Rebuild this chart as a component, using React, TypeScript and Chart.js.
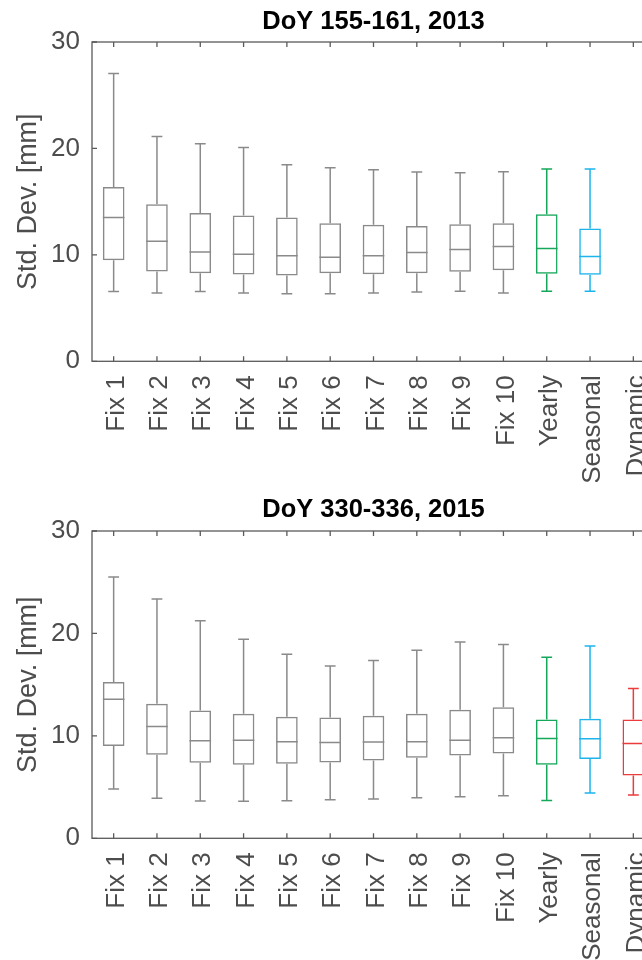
import React, { useEffect, useRef } from 'react';
import { Chart, registerables } from 'chart.js';

Chart.register(...registerables);

// ---------- data ----------
const categories = ['Fix 1', 'Fix 2', 'Fix 3', 'Fix 4', 'Fix 5', 'Fix 6', 'Fix 7', 'Fix 8', 'Fix 9', 'Fix 10', 'Yearly', 'Seasonal', 'Dynamic'];
const yTicks = [0, 10, 20, 30];
const yAxisLabel = 'Std. Dev. [mm]';

const title2013 = 'DoY 155-161, 2013';
const low2013 = [6.56, 6.41, 6.56, 6.41, 6.34, 6.34, 6.41, 6.5, 6.59, 6.41, 6.59, 6.59, null];
const q1_2013 = [9.5, 8.44, 8.28, 8.16, 8.06, 8.28, 8.19, 8.28, 8.41, 8.56, 8.22, 8.13, null];
const median2013 = [13.5, 11.28, 10.28, 10.06, 9.91, 9.78, 9.91, 10.22, 10.5, 10.78, 10.59, 9.84, null];
const q3_2013 = [16.38, 14.75, 13.94, 13.69, 13.5, 12.97, 12.84, 12.72, 12.88, 12.97, 13.81, 12.47, null];
const high2013 = [27.03, 21.13, 20.44, 20.09, 18.47, 18.19, 18.0, 17.78, 17.72, 17.81, 18.06, 18.06, null];

const title2015 = 'DoY 330-336, 2015';
const low2015 = [4.81, 3.9, 3.64, 3.61, 3.67, 3.77, 3.83, 3.96, 4.06, 4.16, 3.7, 4.42, 4.22];
const q1_2015 = [9.0, 8.15, 7.38, 7.18, 7.28, 7.41, 7.6, 7.86, 8.09, 8.28, 7.18, 7.73, 6.14];
const median2015 = [13.58, 10.92, 9.52, 9.58, 9.42, 9.36, 9.39, 9.42, 9.58, 9.81, 9.75, 9.71, 9.26];
const q3_2015 = [15.27, 13.13, 12.48, 12.15, 11.86, 11.79, 11.96, 12.15, 12.54, 12.8, 11.6, 11.66, 11.6];
const high2015 = [25.5, 23.36, 21.25, 19.43, 17.97, 16.83, 17.35, 18.36, 19.17, 18.91, 17.67, 18.78, 14.62];

// ---------- styles ----------
const GRAY = '#8a8a8a';
const GREEN = '#16a85a';
const BLUE = '#1db4ec';
const RED = '#ec3b3b';
const boxColors = [GRAY, GRAY, GRAY, GRAY, GRAY, GRAY, GRAY, GRAY, GRAY, GRAY, GREEN, BLUE, RED];
const TEXT = '#4d4d4d';
const AXIS = '#5a5a5a';
const FONT = "'Liberation Sans', Arial, Helvetica, sans-serif";

const boxPlugin = {
  id: 'boxWhiskers',
  afterDatasetsDraw(chart: any) {
    const ds: any = chart.data.datasets[0];
    const st = ds.stats;
    const meta = chart.getDatasetMeta(0);
    const ys = chart.scales.y;
    const xs = chart.scales.x;
    const ctx = chart.ctx;
    ctx.save();
    ctx.lineWidth = 1.5;
    st.median.forEach((med: number | null, i: number) => {
      if (med == null) return;
      const bar: any = meta.data[i];
      const x = xs.getPixelForValue(i);
      const w = bar && bar.width ? bar.width : 20;
      const half = w / 2;
      const cap = w / 4;
      const yMed = ys.getPixelForValue(med);
      const yQ1 = ys.getPixelForValue(st.q1[i]);
      const yQ3 = ys.getPixelForValue(st.q3[i]);
      const yLo = ys.getPixelForValue(st.low[i]);
      const yHi = ys.getPixelForValue(st.high[i]);
      ctx.strokeStyle = ds.borderColor[i];
      ctx.beginPath();
      ctx.moveTo(x - half, yMed); ctx.lineTo(x + half, yMed);
      ctx.moveTo(x, yQ3); ctx.lineTo(x, yHi);
      ctx.moveTo(x - cap, yHi); ctx.lineTo(x + cap, yHi);
      ctx.moveTo(x, yQ1); ctx.lineTo(x, yLo);
      ctx.moveTo(x - cap, yLo); ctx.lineTo(x + cap, yLo);
      ctx.stroke();
    });
    ctx.restore();
  },
};

const framePlugin = {
  id: 'frame',
  afterDraw(chart: any) {
    const { ctx, chartArea } = chart;
    const { left, right, top, bottom } = chartArea;
    ctx.save();
    ctx.strokeStyle = AXIS;
    ctx.lineWidth = 1.3;
    ctx.strokeRect(left, top, right - left, bottom - top);
    const xs = chart.scales.x;
    const ys = chart.scales.y;
    const tl = 5;
    ctx.beginPath();
    xs.ticks.forEach((_t: any, i: number) => {
      const px = xs.getPixelForTick(i);
      ctx.moveTo(px, bottom); ctx.lineTo(px, bottom - tl);
      ctx.moveTo(px, top); ctx.lineTo(px, top + tl);
    });
    ys.ticks.forEach((_t: any, i: number) => {
      const py = ys.getPixelForTick(i);
      ctx.moveTo(left, py); ctx.lineTo(left + tl, py);
      ctx.moveTo(right, py); ctx.lineTo(right - tl, py);
    });
    ctx.stroke();
    ctx.restore();
  },
};

function makeConfig(
  title: string,
  low: (number | null)[],
  q1: (number | null)[],
  median: (number | null)[],
  q3: (number | null)[],
  high: (number | null)[],
  padTop: number,
  titlePad: { top: number; bottom: number },
  xHeight: number
): any {
  return {
    type: 'bar',
    data: {
      labels: categories,
      datasets: [
        {
          data: q1.map((v, i) => (v == null ? null : [v, q3[i]])),
          backgroundColor: 'rgba(0,0,0,0)',
          borderColor: boxColors,
          borderWidth: 1.5,
          borderSkipped: false,
          barPercentage: 0.5,
          categoryPercentage: 1,
          stats: { low, q1, median, q3, high },
        },
      ],
    },
    options: {
      responsive: false,
      animation: false,
      events: [],
      layout: { padding: { top: padTop, left: 0, right: 15, bottom: 0 } },
      plugins: {
        legend: { display: false },
        tooltip: { enabled: false },
        title: {
          display: true,
          text: title,
          fullSize: false,
          color: '#000000',
          font: { family: FONT, size: 25.5, weight: 'bold', lineHeight: 1.2 },
          padding: titlePad,
        },
      },
      scales: {
        x: {
          grid: { display: false, drawTicks: false },
          border: { display: false },
          ticks: {
            color: TEXT,
            font: { family: FONT, size: 26 },
            maxRotation: 90,
            minRotation: 90,
            padding: 14,
            labelOffset: 3,
            autoSkip: false,
          },
          afterFit(s: any) {
            s.height = xHeight;
            s.paddingLeft = 0;
            s.paddingRight = 0;
          },
        },
        y: {
          min: yTicks[0],
          max: yTicks[yTicks.length - 1],
          grid: { display: false, drawTicks: false },
          border: { display: false },
          afterBuildTicks(s: any) {
            s.ticks = yTicks.map((v) => ({ value: v }));
          },
          ticks: {
            color: TEXT,
            font: { family: FONT, size: 26 },
            padding: 12,
          },
          title: {
            display: true,
            text: yAxisLabel,
            color: TEXT,
            font: { family: FONT, size: 27, lineHeight: 1.2 },
            padding: { top: 12, bottom: 0 },
          },
          afterFit(s: any) {
            s.width = 92;
          },
        },
      },
    },
    plugins: [framePlugin, boxPlugin],
  };
}

export default function App() {
  const topRef = useRef<HTMLCanvasElement | null>(null);
  const botRef = useRef<HTMLCanvasElement | null>(null);

  useEffect(() => {
    const c1 = new Chart(
      topRef.current as HTMLCanvasElement,
      makeConfig(title2013, low2013, q1_2013, median2013, q3_2013, high2013, 0, { top: 7, bottom: 4.4 }, 120.7)
    );
    const c2 = new Chart(
      botRef.current as HTMLCanvasElement,
      makeConfig(title2015, low2015, q1_2015, median2015, q3_2015, high2015, 6, { top: 7, bottom: 5.4 }, 121.7)
    );
    return () => {
      c1.destroy();
      c2.destroy();
    };
  }, []);

  return (
    <div
      style={{
        position: 'fixed',
        left: 0,
        top: 0,
        width: 642,
        height: 960,
        overflow: 'hidden',
        background: '#ffffff',
      }}
    >
      <canvas ref={topRef} width={670} height={482} style={{ position: 'absolute', left: 0, top: 0 }} />
      <canvas ref={botRef} width={670} height={478} style={{ position: 'absolute', left: 0, top: 482 }} />
    </div>
  );
}
